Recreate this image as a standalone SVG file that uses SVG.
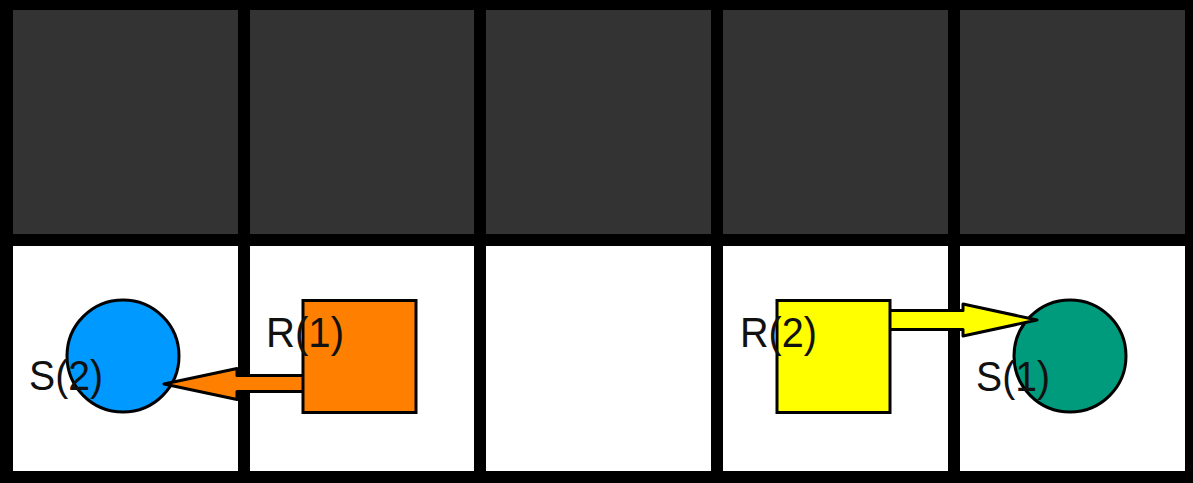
<svg xmlns="http://www.w3.org/2000/svg" width="1193" height="483" viewBox="0 0 1193 483">
<style>
.dark{fill:#333333}
.light{fill:#ffffff}
.node{stroke:#000;stroke-width:3}
.arrow{stroke:#000;stroke-width:3;stroke-linejoin:round}
.lbl{font-family:"Liberation Sans",Arial,sans-serif;font-size:43px;fill:#111}
</style>
<g id="grid">
<rect x="0" y="0" width="1193" height="483" fill="#000"/>
<rect class="dark" x="13" y="10" width="225" height="224"/>
<rect class="dark" x="250" y="10" width="224" height="224"/>
<rect class="dark" x="486" y="10" width="225" height="224"/>
<rect class="dark" x="723" y="10" width="225" height="224"/>
<rect class="dark" x="960" y="10" width="225" height="224"/>
<rect class="light" x="13" y="246" width="225" height="225"/>
<rect class="light" x="250" y="246" width="224" height="225"/>
<rect class="light" x="486" y="246" width="225" height="225"/>
<rect class="light" x="723" y="246" width="225" height="225"/>
<rect class="light" x="960" y="246" width="225" height="225"/>
</g>
<g id="S2">
<circle class="node" cx="123" cy="356" r="56" fill="#0099ff"/>
<text class="lbl" x="29" y="390" textLength="74" lengthAdjust="spacingAndGlyphs">S(2)</text>
</g>
<g id="S1">
<circle class="node" cx="1070" cy="356" r="56" fill="#009b7d"/>
<text class="lbl" x="976" y="391" textLength="74" lengthAdjust="spacingAndGlyphs">S(1)</text>
</g>
<g id="connectors">
<polygon class="arrow" fill="#ff8000" points="304,375.5 237,375.5 237,368.5 164,384 237,399.5 237,391.5 304,391.5"/>
<polygon class="arrow" fill="#ffff00" points="888,310.5 963,310.5 963,304 1037,320 963,336 963,329.5 888,329.5"/>
</g>
<g id="R1">
<rect class="node" x="303" y="300.5" width="113" height="112" fill="#ff8000"/>
<text class="lbl" x="266" y="347" textLength="78" lengthAdjust="spacingAndGlyphs">R(1)</text>
</g>
<g id="R2">
<rect class="node" x="777" y="300.5" width="113" height="112" fill="#ffff00"/>
<text class="lbl" x="740" y="347" textLength="77" lengthAdjust="spacingAndGlyphs">R(2)</text>
</g>
</svg>
